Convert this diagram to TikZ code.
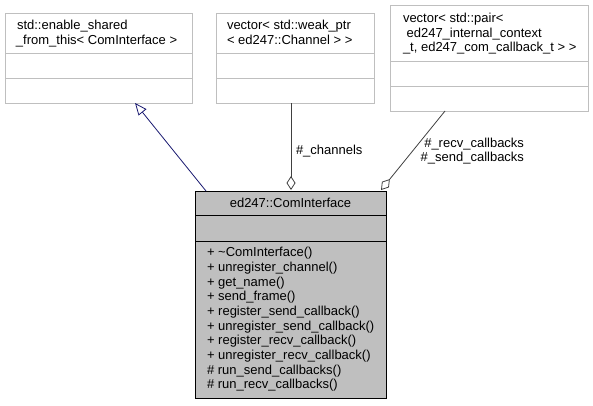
\documentclass[tikz,border=0pt]{standalone}
\usepackage{fontspec}
\setmainfont{Liberation Sans}
\usetikzlibrary{arrows.meta,calc}

\definecolor{boxgrey}{HTML}{BFBFBF}
\definecolor{edgegrey}{HTML}{404040}
\definecolor{inhblue}{HTML}{191970}

\begin{document}
\begin{tikzpicture}[x=1pt,y=-1pt,
  every node/.style={font=\fontsize{13}{14.67}\selectfont, inner sep=0pt, outer sep=0pt},
  classbox/.style={draw=boxgrey, line width=0.8pt, fill=white, anchor=north west,
    minimum width=#1, inner sep=0pt},
  mainbox/.style={draw=black, line width=0.8pt, fill=boxgrey, anchor=north west,
    minimum width=#1, inner sep=0pt},
  divider/.style={draw=boxgrey, line width=0.8pt},
  maindivider/.style={draw=black, line width=0.8pt},
  txt/.style={anchor=base west},
  inherit/.style={draw=inhblue, line width=0.8pt, -{Triangle[open, length=12pt, width=10pt]}},
  aggreg/.style={draw=edgegrey, line width=0.8pt, {Diamond[open, length=14pt, width=9pt]}-},
]
\useasboundingbox (0,0) rectangle (593,405);

% base class std::enable_shared_from_this
\node[classbox=187pt, minimum height=90pt] (base) at (5,13) {};
\draw[divider] ($(base.north west)+(0,40)$) -- ($(base.north east)+(0,40)$);
\draw[divider] ($(base.north west)+(0,65)$) -- ($(base.north east)+(0,65)$);
\node[txt] (base1) at (17,29.7) {std::enable\_shared};
\node[txt] (base2) at (16,44.7) {\_from\_this< ComInterface >};

% vector of channels
\node[classbox=158pt, minimum height=90pt] (chan) at (216,13) {};
\draw[divider] ($(chan.north west)+(0,40)$) -- ($(chan.north east)+(0,40)$);
\draw[divider] ($(chan.north west)+(0,65)$) -- ($(chan.north east)+(0,65)$);
\node[txt] (chan1) at (227,29.7) {vector< std::weak\_ptr};
\node[txt] (chan2) at (227,44.7) {< ed247::Channel > >};

% vector of callbacks
\node[classbox=198pt, minimum height=106pt] (cb) at (390,5) {};
\draw[divider] ($(cb.north west)+(0,56)$) -- ($(cb.north east)+(0,56)$);
\draw[divider] ($(cb.north west)+(0,81)$) -- ($(cb.north east)+(0,81)$);
\node[txt] (cb1) at (403,22.7) {vector< std::pair<};
\node[txt] (cb2) at (406.6,37.7) {ed247\_internal\_context};
\node[txt] (cb3) at (403,51.7) {\_t, ed247\_com\_callback\_t > >};

% ed247::ComInterface
\node[mainbox=191pt, minimum height=207pt] (main) at (195,191) {};
\draw[maindivider] ($(main.north west)+(0,24)$) -- ($(main.north east)+(0,24)$);
\draw[maindivider] ($(main.north west)+(0,50)$) -- ($(main.north east)+(0,50)$);
\node[anchor=base] (title) at (290.5,207.7) {ed247::ComInterface};
\foreach \t [count=\i from 0] in {%
  + \textasciitilde ComInterface(),
  + unregister\_channel(),
  + get\_name(),
  + send\_frame(),
  + register\_send\_callback(),
  + unregister\_send\_callback(),
  + register\_recv\_callback(),
  + unregister\_recv\_callback(),
  \# run\_send\_callbacks(),
  \# run\_recv\_callbacks()}
  \node[txt] (m\i) at (207,{256.7+14.67*\i}) {\t};

% relations
\draw[inherit] ($(main.north west)+(11,0)$) -- ($(base.south west)+(130,0)$);
\draw[aggreg] ($(main.north west)+(96,-1)$) -- ($(chan.south west)+(75,0)$);
\draw[aggreg] ($(main.north east)+(-5,-1)$) -- ($(cb.south west)+(55,0)$);

\node[txt] (lchan) at (296,154.7) {\#\_channels};
\node[anchor=base east] (lrecv) at (524,147.7) {\#\_recv\_callbacks};
\node[anchor=base east] (lsend) at (524,161.7) {\#\_send\_callbacks};
\end{tikzpicture}
\end{document}
